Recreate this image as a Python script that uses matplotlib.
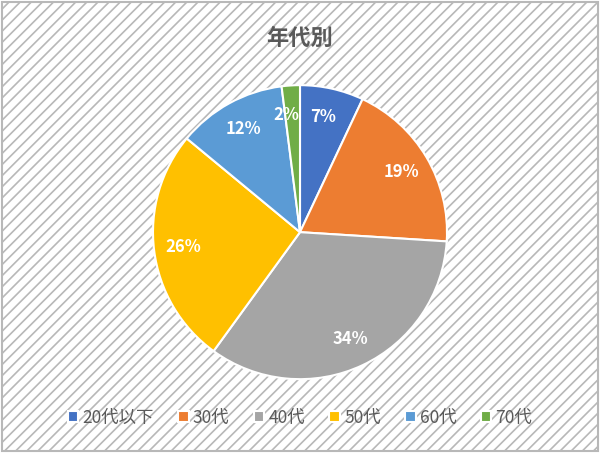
import matplotlib.pyplot as plt
from matplotlib.patches import Rectangle

plt.rcParams['font.family'] = ['Noto Sans CJK JP', 'DejaVu Sans']
plt.rcParams['hatch.color'] = '#f1f1f1'
plt.rcParams['hatch.linewidth'] = 1.2

# data
title = '年代別'
labels = ['20代以下', '30代', '40代', '50代', '60代', '70代']
values = [7, 19, 34, 26, 12, 2]
colors = ['#4472C4', '#ED7D31', '#A5A5A5', '#FFC000', '#5B9BD5', '#70AD47']

fig = plt.figure(figsize=(6, 4.53), dpi=100)
fig.patch.set_facecolor('white')

# striped background + border
bg = Rectangle((0.004, 0.005), 0.992, 0.99, transform=fig.transFigure,
               facecolor='white', edgecolor='#b8b8b8', linewidth=1.5,
               hatch='///', zorder=-10)
fig.patches.append(bg)

ax = fig.add_axes([0.255, 0.163, 0.49, 0.649])
wedges, texts, autotexts = ax.pie(
    values, colors=colors, startangle=90, counterclock=False,
    autopct='%d%%', pctdistance=0.8,
    wedgeprops=dict(edgecolor='white', linewidth=1.5),
    textprops=dict(color='white', fontsize=12, fontweight='bold'))
ax.set_xlim(-1, 1)
ax.set_ylim(-1, 1)
ax.set_aspect('equal')

# keep the small 2% label from running into 7%
x, y = autotexts[-1].get_position()
autotexts[-1].set_position((x - 0.04, y))
x, y = autotexts[0].get_position()
autotexts[0].set_position((x - 0.02, y))

fig.text(0.5, 0.915, title, ha='center', va='center', fontsize=16,
         fontweight='bold', color='#595959')

leg = fig.legend(wedges, labels, loc='center', bbox_to_anchor=(0.5, 0.078),
                 ncol=6, frameon=False, fontsize=12.5, handlelength=0.6,
                 handleheight=0.6, handletextpad=0.25, columnspacing=1.4,
                 labelcolor='#595959')

plt.savefig('out.png', dpi=100)
plt.close()
